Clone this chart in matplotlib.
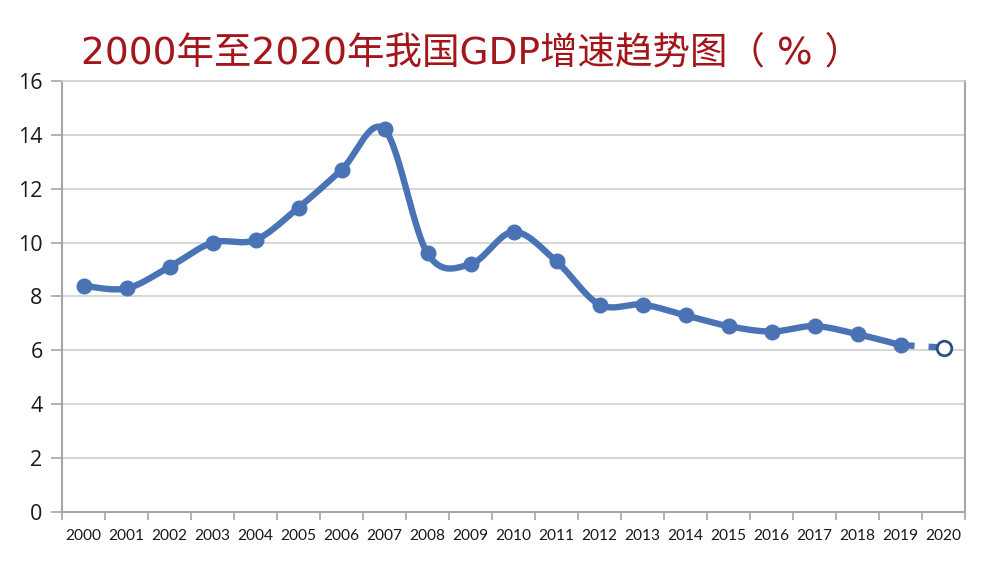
import numpy as np
import matplotlib.pyplot as plt

plt.rcParams['font.family'] = ['Noto Sans CJK SC', 'DejaVu Sans']

# ---- 数据 ----
years = [str(y) for y in range(2000, 2021)]
gdp = [8.4, 8.3, 9.1, 10.0, 10.1, 11.3, 12.7, 14.2, 9.6, 9.2, 10.4,
       9.3, 7.7, 7.7, 7.3, 6.9, 6.7, 6.9, 6.6, 6.2, 6.1]
n_actual = 20  # 2000-2019 实际值，2020 为预测

line_color = '#4a73b5'
grid_color = '#d0d0d0'
axis_color = '#a6a6a6'


def smooth(xs, ys, n=30):
    # Excel 风格的平滑线（Catmull-Rom -> Bezier）
    xs = np.asarray(xs, float)
    ys = np.asarray(ys, float)
    px = np.concatenate([[xs[0]], xs, [xs[-1]]])
    py = np.concatenate([[ys[0]], ys, [ys[-1]]])
    out_x, out_y = [], []
    t = np.linspace(0, 1, n)
    for i in range(1, len(px) - 2):
        p0 = np.array([px[i], py[i]])
        p3 = np.array([px[i + 1], py[i + 1]])
        c1 = p0 + (p3 - np.array([px[i - 1], py[i - 1]])) / 6
        c2 = p3 - (np.array([px[i + 2], py[i + 2]]) - p0) / 6
        b = ((1 - t) ** 3)[:, None] * p0 + (3 * (1 - t) ** 2 * t)[:, None] * c1 \
            + (3 * (1 - t) * t ** 2)[:, None] * c2 + (t ** 3)[:, None] * p3
        out_x.extend(b[:, 0])
        out_y.extend(b[:, 1])
    return np.array(out_x), np.array(out_y)


fig = plt.figure(figsize=(9.92, 5.64), dpi=100)
ax = fig.add_axes([0.0625, 0.0922, 0.9103, 0.7642])

x = np.arange(len(years))
sx, sy = smooth(x[:n_actual], gdp[:n_actual])
ax.plot(sx, sy, color=line_color, linewidth=4.6, solid_capstyle='round', zorder=3)
ax.plot(x[:n_actual], gdp[:n_actual], 'o', color=line_color, markersize=10.5, zorder=4)

# 2020 预测：虚线 + 空心点
ax.plot(x[n_actual - 1:], gdp[n_actual - 1:], color=line_color, linewidth=4.6,
        dashes=(2.2, 2.2), zorder=3)
ax.plot(x[-1], gdp[-1], 'o', markerfacecolor='white', markeredgecolor='#2e4f80',
        markeredgewidth=2, markersize=10.5, zorder=5)

# ---- 坐标轴 ----
ax.set_xlim(-0.5, len(years) - 0.5)
ax.set_ylim(0, 16)
ax.set_yticks(range(0, 17, 2))
ax.set_yticklabels([str(v) for v in range(0, 17, 2)], fontsize=15.5,
                   family=['Open Sans', 'DejaVu Sans'], color='#1a1a1a')
ax.set_xticks(x)
ax.set_xticklabels(years, fontsize=11.2, family=['Lato', 'DejaVu Sans'], color='#1a1a1a')
ax.set_xticks(np.arange(-0.5, len(years), 1), minor=True)
ax.tick_params(axis='x', which='major', length=0, pad=12)
ax.tick_params(axis='x', which='minor', length=6, color=axis_color, width=1.2)
ax.tick_params(axis='y', length=8, color=axis_color, width=1.2, pad=6)

ax.grid(axis='y', color=grid_color, linewidth=1.2)
ax.set_axisbelow(True)
for side in ['left', 'right', 'bottom']:
    ax.spines[side].set_color(axis_color)
    ax.spines[side].set_linewidth(1.5)
ax.spines['top'].set_color(grid_color)
ax.spines['top'].set_linewidth(1.2)

fig.text(0.082, 0.888, '2000年至2020年我国GDP增速趋势图（ % ）', fontsize=27,
         family=['DejaVu Sans', 'Noto Sans CJK SC'],
         color='#a3171c', ha='left', va='baseline')

fig.savefig('out.png', dpi=100, facecolor='white')
